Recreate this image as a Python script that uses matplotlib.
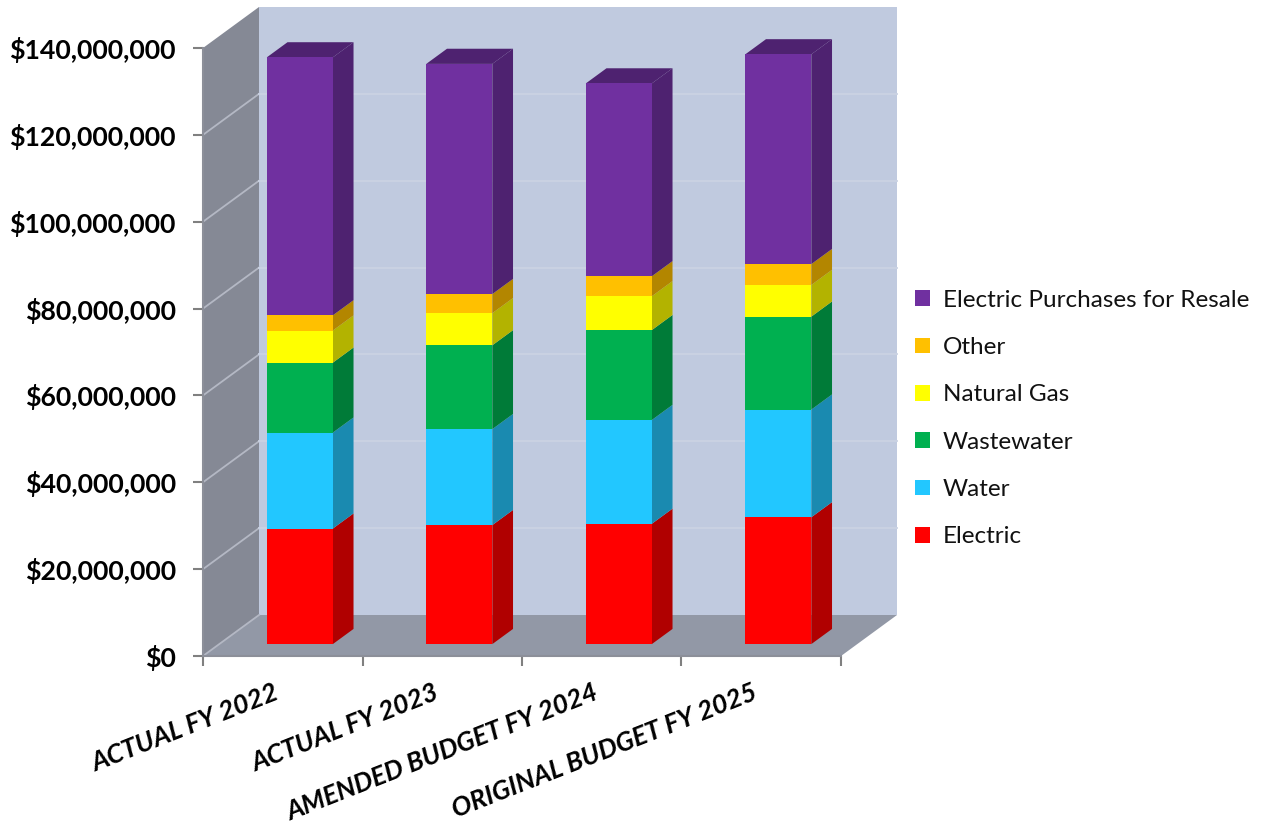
import matplotlib
matplotlib.use("Agg")
import matplotlib.pyplot as plt
from matplotlib.patches import Patch
from matplotlib.ticker import FuncFormatter, MultipleLocator, FixedLocator, NullFormatter

plt.rcParams['font.family'] = ['Lato', 'DejaVu Sans']

categories = ["ACTUAL FY 2022", "ACTUAL FY 2023", "AMENDED BUDGET FY 2024", "ORIGINAL BUDGET FY 2025"]
electric = [26.6e6, 27.4e6, 27.7e6, 29.2e6]
water = [22.1e6, 22.1e6, 23.9e6, 24.8e6]
wastewater = [16.1e6, 19.3e6, 20.7e6, 21.4e6]
natural_gas = [7.4e6, 7.4e6, 7.8e6, 7.3e6]
other = [3.5e6, 4.4e6, 4.6e6, 4.8e6]
purchases = [59.4e6, 53.0e6, 44.4e6, 48.3e6]

series = [
    ("Electric", electric, "#FF0000", "#B00000"),
    ("Water", water, "#22C7FF", "#1A8AB0"),
    ("Wastewater", wastewater, "#00B050", "#007B38"),
    ("Natural Gas", natural_gas, "#FFFF00", "#B3B300"),
    ("Other", other, "#FFC000", "#B38600"),
    ("Electric Purchases for Resale", purchases, "#7030A0", "#4E2270"),
]

W, H = 1263, 826
Y_MAX = 140e6
# Oblique depth: how far one full unit of depth shifts a point in data units
DEPTH_X = 56 / 159.5
DEPTH_Y = 41 / 608 * Y_MAX
BAR_OFFSET, BAR_WIDTH = 0.298, 0.414
BAR_NEAR, BAR_FAR = 0.29, 0.66


def proj(x, v, d):
    return x + d * DEPTH_X, v + d * DEPTH_Y


def face(ax, corners, color, z=2):
    pts = [proj(*c) for c in corners]
    ax.fill([p[0] for p in pts], [p[1] for p in pts], color=color, lw=0,
            clip_on=False, zorder=z)


def segment(ax, a, b, color):
    ax.plot([a[0], b[0]], [a[1], b[1]], color=color, lw=1.3, clip_on=False, zorder=1.5)


fig = plt.figure(figsize=(W / 100, H / 100), dpi=100, facecolor="white")
ax = fig.add_axes([203 / W, (H - 656) / H, 638 / W, 608 / H])
ax.set_xlim(0, len(categories))
ax.set_ylim(0, Y_MAX)
ax.patch.set_visible(False)

# Walls and floor of the 3D box
n = len(categories)
face(ax, [(0, 0, 1), (n, 0, 1), (n, Y_MAX, 1), (0, Y_MAX, 1)], "#C0CADF", 1)
face(ax, [(0, 0, 0), (0, Y_MAX, 0), (0, Y_MAX, 1), (0, 0, 1)], "#858995", 1)
face(ax, [(0, 0, 0), (n, 0, 0), (n, 0, 1), (0, 0, 1)], "#9298A6", 1)

# Gridlines run along the side wall, then across the back wall
for step in range(20, 140, 20):
    v = step * 1e6
    segment(ax, proj(0, v, 0), proj(0, v, 1), "#B4B8C4")
    segment(ax, proj(0, v, 1), proj(n, v, 1), "#CAD2E3")
segment(ax, proj(0, 0, 0), proj(0, 0, 1), "#B4B8C4")

# Stacked bars
for i in range(n):
    x0 = i + BAR_OFFSET
    x1 = x0 + BAR_WIDTH
    base = 0.0
    for _, values, front, side in series:
        top = base + values[i]
        face(ax, [(x1, base, BAR_NEAR), (x1, base, BAR_FAR), (x1, top, BAR_FAR), (x1, top, BAR_NEAR)], side, 3)
        face(ax, [(x0, base, BAR_NEAR), (x1, base, BAR_NEAR), (x1, top, BAR_NEAR), (x0, top, BAR_NEAR)], front, 4)
        base = top
    face(ax, [(x0, base, BAR_NEAR), (x1, base, BAR_NEAR), (x1, base, BAR_FAR), (x0, base, BAR_FAR)], "#4E2270", 3)

# Axes
for s in ("top", "right"):
    ax.spines[s].set_visible(False)
for s in ("left", "bottom"):
    ax.spines[s].set_color("#8C8F99")
    ax.spines[s].set_linewidth(1.5)
    ax.spines[s].set_zorder(2)

ax.yaxis.set_major_locator(MultipleLocator(20e6))
ax.yaxis.set_major_formatter(FuncFormatter(lambda v, _: f"${v:,.0f}"))
ax.tick_params(axis="y", length=7, width=1.5, color="#808080", pad=12.5, labelsize=19.2)
for t in ax.get_yticklabels():
    t.set_fontweight("bold")

ax.xaxis.set_major_locator(FixedLocator([i + 0.44 for i in range(n)]))
ax.set_xticklabels(categories, rotation=21.5, ha="right", va="top", rotation_mode="anchor",
                   fontsize=19, fontweight="bold", fontstyle="italic")
ax.xaxis.set_minor_locator(FixedLocator(list(range(n + 1))))
ax.xaxis.set_minor_formatter(NullFormatter())
ax.tick_params(axis="x", which="major", length=0, pad=17.5)
ax.tick_params(axis="x", which="minor", length=7, width=1.5, color="#808080")

# Legend, top of stack first
handles = [Patch(facecolor=c, edgecolor="none", label=name) for name, _, c, _ in reversed(series)]
fig.legend(handles=handles, loc="center left", bbox_to_anchor=(915 / W, (H - 418.5) / H),
           frameon=False, fontsize=17.5, handlelength=0.62, handleheight=0.62,
           handletextpad=0.53, labelspacing=1.085, borderpad=0, borderaxespad=0,
           labelcolor="#111111")

fig.savefig("out.png", dpi=100, facecolor="white")
